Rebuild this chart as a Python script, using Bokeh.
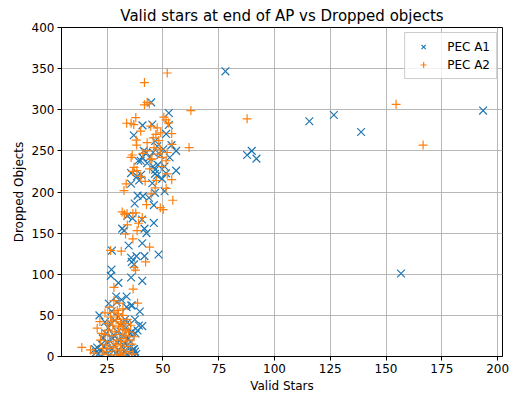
from bokeh.plotting import figure
from bokeh.models import ColumnDataSource, FixedTicker, Range1d
from bokeh.embed import file_html
from bokeh.resources import INLINE

# ---- data ----
a1_x = [78.0, 193.5, 126.6, 115.6, 138.8, 89.8, 87.7, 91.9, 156.7,
        44.7, 52.6, 52.6, 51.4, 45.2, 36.9, 40.8, 53.8, 55.9, 53.0, 55.9, 50.7, 45.6, 42.5, 40.0,
        42.9, 46.5, 46.4, 35.7, 38.4, 40.2, 39.3, 35.7, 45.2, 50.7, 46.4, 38.6, 41.0, 43.7, 37.3,
        45.9, 40.6, 36.4, 45.9, 34.0, 31.7, 32.6, 42.6, 41.7, 34.6, 40.7, 35.7, 38.1, 41.7, 48.0,
        36.0, 37.0, 35.7, 40.7, 26.9, 26.6, 30.0, 27.1, 29.0, 33.7, 25.7, 29.3, 31.4, 35.7, 39.6,
        33.7, 21.5, 40.7, 37.4, 38.6,
        48.8, 50.1, 47.4, 45.6, 41.4, 44.0, 47.7, 51.4, 49.6, 47.4, 40.8, 38.9, 46.5,
        20.5, 22.0, 21.0, 23.5, 24.0, 25.0, 26.0, 27.0, 27.5, 28.0, 29.0, 29.5, 30.0, 30.5, 31.0,
        31.5, 32.0, 32.5, 33.0, 33.5, 34.0, 34.5, 35.0, 35.5, 36.0, 36.5, 37.0, 37.5, 38.0, 24.5,
        26.5, 28.5, 30.0, 31.0, 33.0, 23.0, 25.5, 27.0, 22.5, 19.5, 34.0, 36.0, 24.0, 28.0, 32.0,
        20.0, 36.2, 39.2, 37.7, 36.2, 34.0, 35.5]
a1_y = [346.7, 299.0, 293.6, 286.0, 273.0, 250.0, 245.0, 240.6, 100.9,
        309.0, 296.0, 281.5, 270.6, 282.0, 269.0, 281.0, 257.0, 250.0, 242.0, 226.0, 231.0, 231.0, 248.0, 238.0,
        235.0, 227.0, 222.0, 223.0, 219.0, 221.0, 214.0, 210.0, 210.6, 201.0, 199.0, 195.6, 195.0, 193.0, 186.0,
        184.0, 166.5, 168.0, 162.4, 171.0, 155.5, 153.0, 150.0, 155.5, 135.0, 137.7, 120.0, 122.0, 122.0, 124.0,
        115.0, 112.0, 96.0, 92.0, 105.7, 98.0, 89.5, 128.8, 73.0, 73.0, 64.4, 66.0, 69.0, 62.0, 54.7,
        60.0, 50.0, 37.0, 45.0, 31.6,
        245.0, 252.0, 255.6, 248.0, 250.0, 242.0, 233.0, 222.7, 216.0, 220.0, 242.0, 238.0, 262.0,
        11.0, 7.0, 3.0, 12.0, 5.0, 18.0, 2.0, 9.0, 22.0, 14.0, 4.0, 30.0, 8.0, 19.0, 1.0,
        12.0, 26.0, 6.0, 16.0, 35.0, 3.0, 22.0, 10.0, 28.0, 5.0, 8.5, 9.0, 6.0, 3.0, 28.0,
        40.0, 44.0, 48.0, 38.0, 45.0, 22.0, 35.0, 55.0, 15.0, 9.0, 41.0, 30.0, 42.0, 26.0, 2.0,
        5.0, 62.0, 37.7, 28.0, 7.3, 14.0, 18.0]

a2_x = [154.5, 166.6, 87.7, 62.5, 61.7,
        51.9, 41.7, 41.7, 43.9, 42.9, 33.7, 35.7, 36.9, 37.8, 50.4, 51.4, 53.9, 46.8, 45.6, 48.1,
        47.4, 42.9, 38.2, 36.2, 35.7, 37.0, 36.4, 48.8, 47.6, 51.9, 49.4, 51.4, 51.9, 53.9, 54.4,
        50.1, 48.8, 51.4, 42.6, 44.7, 44.0, 40.0, 38.3, 32.5, 31.7, 32.7, 33.9, 36.5, 37.8, 40.7,
        38.4, 36.5, 33.2, 31.3, 44.0, 26.5, 42.2, 37.0, 37.7, 54.0, 44.6, 43.0, 46.0, 38.0, 40.0,
        44.5, 49.0, 52.5, 47.0, 45.0, 42.0, 34.0, 39.0, 33.5, 46.5, 41.0, 49.5,
        13.6, 17.5, 19.0, 20.5, 21.7, 22.0, 23.0, 23.5, 24.0, 24.5, 25.0, 25.5, 26.0, 26.5, 27.0,
        27.0, 27.5, 28.0, 28.0, 28.5, 29.0, 29.0, 29.5, 30.0, 30.0, 30.5, 30.5, 31.0, 31.0, 31.5,
        32.0, 32.0, 32.5, 33.0, 33.0, 33.5, 34.0, 34.0, 34.5, 35.0, 35.0, 35.5, 36.0, 36.5, 37.0,
        24.0, 26.0, 28.0, 30.5, 32.0, 27.0, 29.0, 31.0, 25.0, 22.5, 36.6, 38.6, 28.0, 29.5, 33.0,
        26.0, 31.5]
a2_y = [306.6, 257.0, 289.0, 299.0, 254.0,
        344.7, 333.0, 306.0, 307.0, 309.0, 283.6, 283.6, 282.0, 290.5, 291.0, 287.6, 271.0, 270.0, 265.7, 262.5,
        278.0, 260.0, 257.0, 245.0, 242.0, 230.0, 225.0, 252.0, 246.0, 248.0, 231.0, 238.0, 222.0, 215.0, 190.0,
        178.6, 181.0, 204.5, 184.7, 197.6, 228.0, 219.0, 226.0, 201.7, 175.8, 173.0, 174.0, 174.0, 174.6, 169.0,
        153.0, 143.0, 149.0, 128.0, 133.0, 129.0, 115.0, 108.5, 105.0, 258.0, 240.0, 250.0, 254.0, 263.0, 274.0,
        280.0, 272.0, 284.0, 214.0, 240.0, 213.0, 160.0, 162.0, 210.0, 205.0, 247.0, 242.0,
        11.0, 8.0, 4.0, 34.4, 42.5, 20.0, 10.0, 3.0, 27.0, 14.0, 6.0, 32.0, 18.0, 48.0, 2.0,
        25.0, 38.0, 12.0, 54.0, 30.0, 7.0, 45.0, 20.0, 36.0, 52.0, 3.0, 27.0, 14.0, 42.0, 8.0,
        33.0, 50.0, 18.0, 4.0, 40.0, 25.0, 12.0, 45.0, 30.0, 6.0, 20.0, 38.0, 15.0, 3.0, 24.0,
        53.0, 60.0, 68.0, 65.0, 58.0, 43.0, 15.0, 1.0, 40.0, 28.0, 82.0, 65.0, 84.0, 56.0, 32.0,
        10.0, 22.0]

x_ticks = [25, 50, 75, 100, 125, 150, 175, 200]
y_ticks = [0, 50, 100, 150, 200, 250, 300, 350, 400]

FONT = "DejaVu Sans"

p = figure(width=509, height=395, output_backend="svg", toolbar_location=None,
           x_range=Range1d(4.5, 202.2), y_range=Range1d(0, 400),
           title="Valid stars at end of AP vs Dropped objects",
           min_border_left=61, min_border_right=7, min_border_top=27, min_border_bottom=39)

p.title.text_font = FONT
p.title.text_font_size = "15px"
p.title.text_font_style = "normal"
p.title.align = "center"
p.title.text_color = "#000000"
p.title.offset = 0
p.title.standoff = 5

p.outline_line_color = "black"
p.outline_line_width = 1
p.outline_line_alpha = 1

for ax in (p.xaxis[0], p.yaxis[0]):
    ax.axis_line_color = "black"
    ax.major_tick_line_color = "black"
    ax.minor_tick_line_color = None
    ax.major_tick_in = 0
    ax.major_tick_out = 4
    ax.major_label_text_font = FONT
    ax.major_label_text_font_size = "12px"
    ax.major_label_text_color = "#000000"
    ax.axis_label_text_font = FONT
    ax.axis_label_text_font_size = "12px"
    ax.axis_label_text_font_style = "normal"
    ax.axis_label_text_color = "#000000"
    ax.major_label_standoff = 3
    ax.axis_label_standoff = 3

p.xaxis.axis_label = "Valid Stars"
p.yaxis.axis_label = "Dropped Objects"
p.xaxis.ticker = FixedTicker(ticks=x_ticks)
p.yaxis.ticker = FixedTicker(ticks=y_ticks)

p.grid.grid_line_color = "#b0b0b0"
p.grid.grid_line_width = 0.9
p.xgrid.ticker = FixedTicker(ticks=x_ticks)
p.ygrid.ticker = FixedTicker(ticks=y_ticks)

s1 = ColumnDataSource(dict(x=a1_x, y=a1_y))
s2 = ColumnDataSource(dict(x=a2_x, y=a2_y))

p.scatter("x", "y", source=s1, marker="x", size=11, line_color="#1f77b4",
          line_width=1.2, legend_label="PEC A1")
p.scatter("x", "y", source=s2, marker="cross", size=9, line_color="#ff7f0e",
          line_width=1.2, legend_label="PEC A2")

lg = p.legend[0]
lg.location = "top_right"
lg.label_text_font = FONT
lg.label_text_font_size = "12px"
lg.label_text_color = "#000000"
lg.border_line_color = "#cccccc"
lg.border_line_alpha = 1
lg.background_fill_alpha = 0.8
lg.margin = 5
lg.padding = 6
lg.spacing = 3
lg.glyph_width = 24
lg.label_standoff = 12
lg.label_height = 15
lg.glyph_height = 15

open("out.html", "w").write(file_html(p, INLINE))
